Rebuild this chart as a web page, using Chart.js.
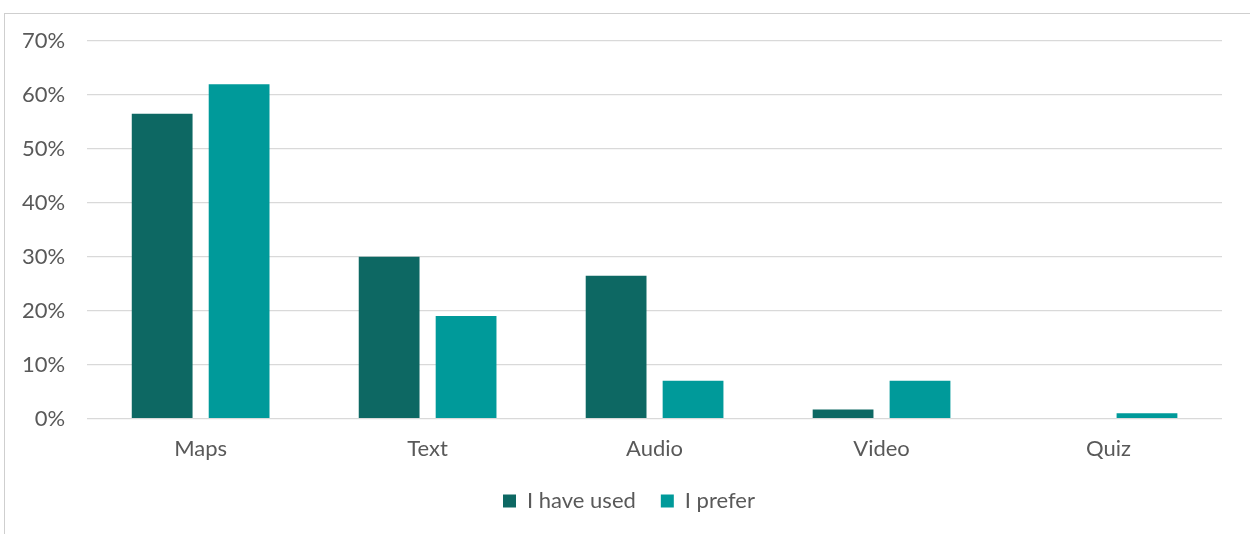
<!DOCTYPE html>
<html>
<head>
<meta charset="utf-8">
<title>Formats used and preferred</title>
<script src="https://cdn.jsdelivr.net/npm/chart.js@4"></script>
<style>
    body {
        margin: 0;
        background: #fff;
    }
    .frame {
        position: absolute;
        left: 4px;
        top: 13px;
        width: 1246px;
        height: 521px;
        border-top: 1px solid #cfcfcf;
        border-left: 1px solid #cfcfcf;
        box-sizing: border-box;
    }
    .chart-wrap {
        position: absolute;
        left: 0;
        top: 0;
        width: 1250px;
        height: 534px;
    }
</style>
</head>
<body>
<div class="frame"></div>
<div class="chart-wrap">
    <canvas id="formatChart"></canvas>
</div>
<script>
const categories = ["Maps", "Text", "Audio", "Video", "Quiz"];
const haveUsed = [56.5, 30, 26.5, 1.7, 0];
const prefer = [62, 19, 7, 7, 1];
const yTicks = [0, 10, 20, 30, 40, 50, 60, 70];

const labelColor = "#595959";
const fontFamily = "Lato, 'Open Sans', sans-serif";
const fontSize = 22;

// give the plot more room below and lift the legend up under the labels
const legendTighten = {
    id: "legendTighten",
    beforeInit(chart) {
        const fit = chart.legend.fit;
        chart.legend.fit = function () {
            fit.bind(chart.legend)();
            this.height -= 7;
        };
    },
    afterLayout(chart) {
        const legend = chart.legend;
        legend.top -= 6;
        legend.bottom -= 6;
        legend.left += 18;
        legend.right += 18;
    },
};

const ctx = document.getElementById("formatChart").getContext("2d");

const formatChart = new Chart(ctx, {
    type: "bar",
    data: {
        labels: categories,
        datasets: [
            {
                label: "I have used",
                data: haveUsed,
                backgroundColor: "#0D6863",
                borderWidth: 0,
            },
            {
                label: "I prefer",
                data: prefer,
                backgroundColor: "#009A9A",
                borderWidth: 0,
            },
        ],
    },
    options: {
        responsive: true,
        maintainAspectRatio: false,
        animation: false,
        datasets: {
            bar: {
                categoryPercentage: 0.678,
                barPercentage: 0.79,
            },
        },
        layout: {
            padding: { left: 0, right: 28, top: 41, bottom: 13 },
        },
        plugins: {
            tooltip: { enabled: false },
            legend: {
                position: "bottom",
                labels: {
                    color: labelColor,
                    font: { family: fontFamily, size: fontSize },
                    boxWidth: 13,
                    boxHeight: 13,
                    padding: 25,
                },
            },
        },
        scales: {
            x: {
                grid: { display: false },
                border: { display: false },
                ticks: {
                    color: labelColor,
                    font: { family: fontFamily, size: fontSize },
                    padding: 9,
                },
            },
            y: {
                min: 0,
                max: 70,
                afterBuildTicks: (axis) => {
                    axis.ticks = yTicks.map((v) => ({ value: v }));
                },
                grid: {
                    color: "#d9d9d9",
                    lineWidth: 1.3,
                    drawTicks: false,
                },
                border: { display: false },
                ticks: {
                    color: labelColor,
                    font: { family: fontFamily, size: fontSize },
                    padding: 22,
                    callback: (value) => value + "%",
                },
            },
        },
    },
    plugins: [legendTighten],
});
</script>
</body>
</html>
